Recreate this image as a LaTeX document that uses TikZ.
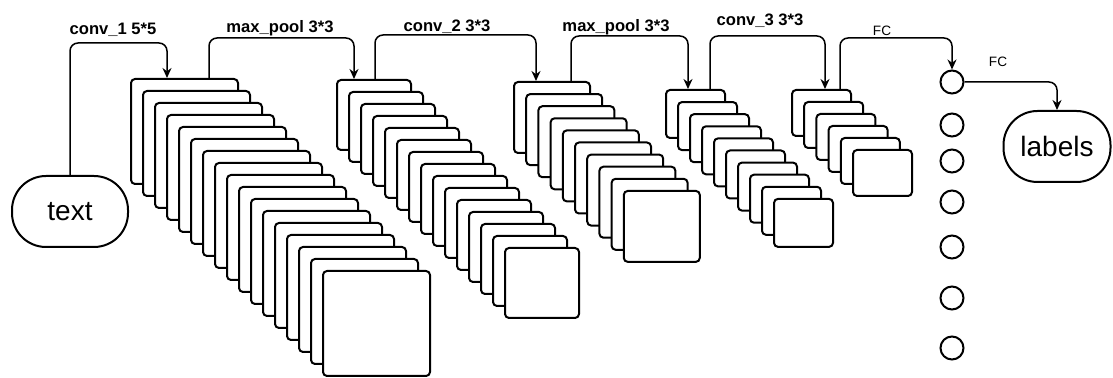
\documentclass[tikz,border=0pt]{standalone}
\usepackage{fontspec}
\setmainfont{Liberation Sans}
\usetikzlibrary{positioning,arrows.meta,calc}

\begin{document}
\begin{tikzpicture}[
    x=0.5pt, y=-0.5pt,
    fmap/.style={rectangle, draw, fill=white, line width=1pt, rounded corners=2pt, anchor=north west, inner sep=0pt},
    term/.style={rectangle, draw, line width=1pt, rounded corners=17pt, minimum height=35.5pt, font=\fontsize{14}{16}\selectfont},
    unit/.style={circle, draw, line width=1pt, minimum size=11.5pt, inner sep=0pt},
    arrow/.style={line width=0.75pt, rounded corners=4pt, -{Stealth[length=5pt,width=4.5pt]}},
    lbl/.style={anchor=base, font=\bfseries\fontsize{8.3}{10}\selectfont},
    fclbl/.style={anchor=base, font=\fontsize{6.8}{8}\selectfont}
]
    \useasboundingbox (0,0) rectangle (1113,378);

    % Nodes
    \node[term, minimum width=58pt] (text) at (70,211.5) {text};
    \foreach \i in {1,...,17}
        \node[fmap, minimum width=53.5pt, minimum height=52.5pt] (conv1-\i) at ({130+12*(\i-1)},{78+12*(\i-1)}) {};
    \foreach \i in {1,...,15}
        \node[fmap, minimum width=37pt, minimum height=35pt] (pool1-\i) at ({336+12*(\i-1)},{79+12*(\i-1)}) {};
    \foreach \i in {1,...,10}
        \node[fmap, minimum width=38pt, minimum height=35.5pt] (conv2-\i) at ({513+12.2*(\i-1)},{81+12.1*(\i-1)}) {};
    \foreach \i in {1,...,10}
        \node[fmap, minimum width=29.5pt, minimum height=24pt] (pool2-\i) at ({665+12*(\i-1)},{89+12.1*(\i-1)}) {};
    \foreach \i in {1,...,6}
        \node[fmap, minimum width=29.5pt, minimum height=23pt] (conv3-\i) at ({791+12.2*(\i-1)},{89+12*(\i-1)}) {};
    \foreach \y [count=\i] in {82,125,161,202,247,298,348}
        \node[unit] (fc\i) at (952,\y) {};
    \node[term, minimum width=53.5pt] (labels) at (1057,146.5) {labels};

    % Arrows
    \draw[arrow] (text.north) -- ++(0,-132) -| ($(conv1-1.north west)+(37,0)$);
    \draw[arrow] ($(conv1-1.north west)+(79,0)$) -- ++(0,-40) -| ($(pool1-1.north west)+(18,0)$);
    \draw[arrow] ($(pool1-1.north west)+(39,0)$) -- ++(0,-44) -| ($(conv2-1.north west)+(23,0)$);
    \draw[arrow] ($(conv2-1.north west)+(58,0)$) -- ++(0,-45) -| ($(pool2-1.north west)+(23,0)$);
    \draw[arrow] ($(pool2-1.north west)+(45,0)$) -- ++(0,-53) -| ($(conv3-1.north west)+(34,0)$);
    \draw[arrow] ($(conv3-1.north west)+(49,0)$) -- ++(0,-51) -| (fc1.north);
    \draw[arrow] (fc1.east) -| (labels.north);

    % Labels
    \node[lbl] (l-conv1) at (113,35) {conv\_1 5*5};
    \node[lbl] (l-pool1) at (280,33) {max\_pool 3*3};
    \node[lbl] (l-conv2) at (447,32) {conv\_2 3*3};
    \node[lbl] (l-pool2) at (616,32) {max\_pool 3*3};
    \node[lbl] (l-conv3) at (760,26) {conv\_3 3*3};
    \node[fclbl] (l-fc1) at (882,36) {FC};
    \node[fclbl] (l-fc2) at (998,67) {FC};
\end{tikzpicture}
\end{document}
